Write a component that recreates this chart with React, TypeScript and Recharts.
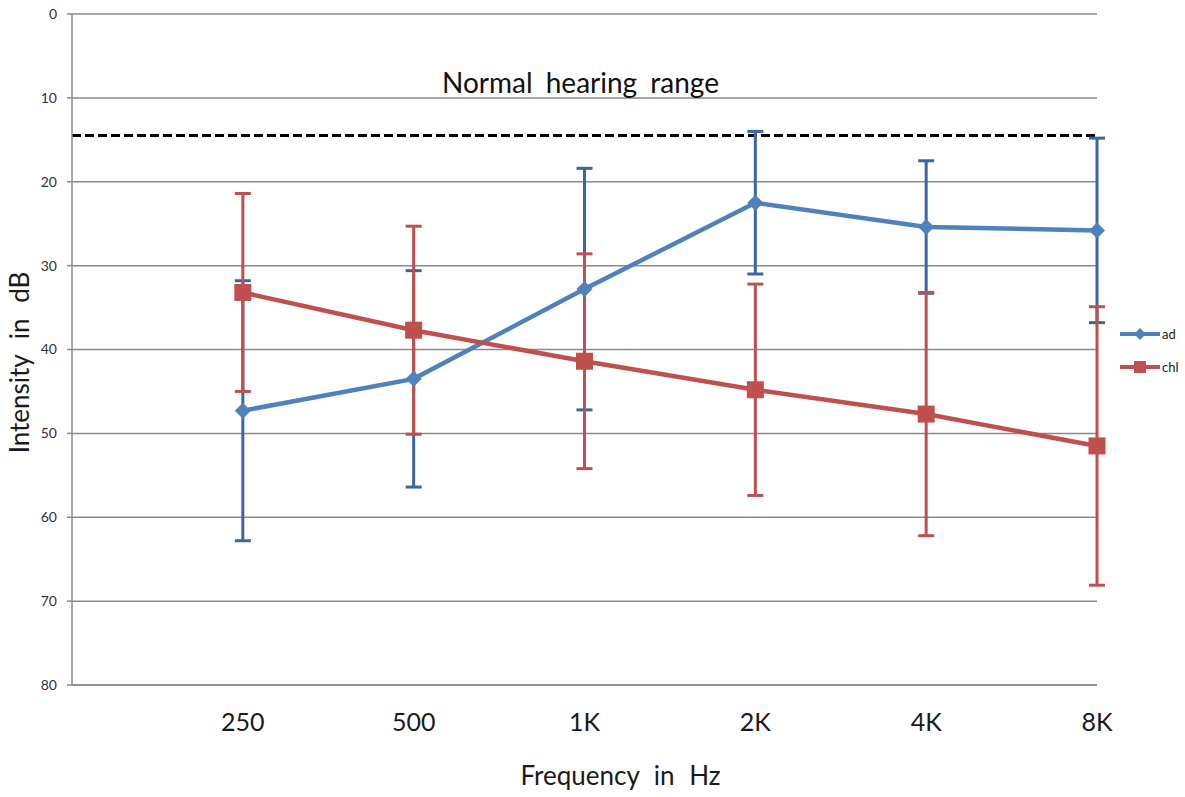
import React from 'react';
import {
  ComposedChart,
  Line,
  XAxis,
  YAxis,
  CartesianGrid,
  ErrorBar,
  ReferenceLine,
} from 'recharts';

const freqLabels = ['250', '500', '1K', '2K', '4K', '8K'];
const freqPositions = [1, 2, 3, 4, 5, 6];
const adValues = [47.3, 43.5, 32.8, 22.5, 25.4, 25.8];
const adErrors = [15.5, 12.9, 14.4, 8.5, 7.9, 11.0];
const chlValues = [33.2, 37.7, 41.4, 44.8, 47.7, 51.5];
const chlErrors = [11.8, 12.4, 12.8, 12.6, 14.5, 16.6];
const yTicks = [0, 10, 20, 30, 40, 50, 60, 70, 80];
const normalLimit = 14.5;

const data = freqPositions.map((x, i) => ({
  x,
  ad: adValues[i],
  adErr: adErrors[i],
  chl: chlValues[i],
  chlErr: chlErrors[i],
}));

const BLUE = '#4F81BD';
const BLUE_ERR = '#3A66A3';
const RED = '#C0504D';
const GRID = '#8a8a8a';
const FONT = 'Lato, "Open Sans", sans-serif';

const Diamond = (props: any) => {
  const { cx, cy, index } = props;
  if (cx == null || cy == null) return <g key={`ad-${index}`} />;
  const h = 8;
  return (
    <path
      key={`ad-${index}`}
      d={`M${cx},${cy - h} L${cx + h},${cy} L${cx},${cy + h} L${cx - h},${cy} Z`}
      fill={BLUE}
    />
  );
};

const Square = (props: any) => {
  const { cx, cy, index } = props;
  if (cx == null || cy == null) return <g key={`chl-${index}`} />;
  const h = 8.5;
  return (
    <rect key={`chl-${index}`} x={cx - h} y={cy - h} width={2 * h} height={2 * h} fill={RED} />
  );
};

export default function App() {
  return (
    <div style={{ position: 'fixed', left: 0, top: 0, width: 1185, height: 797, background: '#fff' }}>
      <ComposedChart
        width={1185}
        height={797}
        data={data}
        margin={{ top: 14, right: 88, bottom: 12, left: 0 }}
      >
        <CartesianGrid vertical={false} stroke={GRID} strokeWidth={1.5} />
        <XAxis
          dataKey="x"
          type="number"
          domain={[0, 6]}
          ticks={freqPositions}
          interval={0}
          tickFormatter={(v: number) => freqLabels[v - 1]}
          tickLine={false}
          tickSize={0}
          tickMargin={28}
          axisLine={{ stroke: GRID, strokeWidth: 1.5 }}
          tick={{ fontSize: 25, fill: '#1a1a1a', fontFamily: FONT }}
          height={100}
          label={{
            value: 'Frequency in Hz',
            position: 'insideBottom',
            offset: 0,
            dx: 36,
            style: { fontSize: 26, fill: '#1a1a1a', fontFamily: FONT, wordSpacing: 8 },
          }}
        />
        <YAxis
          type="number"
          domain={[0, 80]}
          ticks={yTicks}
          interval={0}
          reversed
          width={72}
          tickSize={5}
          tickMargin={10}
          tickLine={{ stroke: GRID, strokeWidth: 1.5 }}
          axisLine={{ stroke: GRID, strokeWidth: 1.5 }}
          tick={{ fontSize: 14, fill: '#333', fontFamily: FONT }}
          label={{
            value: 'Intensity in dB',
            angle: -90,
            position: 'center',
            dx: -16,
            dy: 13,
            style: { fontSize: 26, fill: '#1a1a1a', fontFamily: FONT, textAnchor: 'middle', wordSpacing: 9 },
          }}
        />
        <ReferenceLine
          y={normalLimit}
          stroke="#000"
          strokeWidth={3}
          strokeDasharray="9 4"
          label={{
            value: 'Normal hearing range',
            position: 'top',
            offset: 43,
            dx: -4,
            style: { fontSize: 28, fill: '#111', fontFamily: FONT, wordSpacing: 6 },
          }}
        />
        <Line
          type="linear"
          dataKey="ad"
          stroke={BLUE}
          strokeWidth={4.5}
          dot={Diamond}
          activeDot={false}
          isAnimationActive={false}
        >
          <ErrorBar dataKey="adErr" direction="y" width={8} stroke={BLUE_ERR} strokeWidth={3} />
        </Line>
        <Line
          type="linear"
          dataKey="chl"
          stroke={RED}
          strokeWidth={4.5}
          dot={Square}
          activeDot={false}
          isAnimationActive={false}
        >
          <ErrorBar dataKey="chlErr" direction="y" width={8} stroke={RED} strokeWidth={3} />
        </Line>
      </ComposedChart>
      <div style={{ position: 'absolute', left: 1118, top: 324, fontFamily: FONT, fontSize: 13, color: '#222' }}>
        <div style={{ display: 'flex', alignItems: 'center', height: 20 }}>
          <svg width={44} height={20}>
            <line x1={2} y1={10} x2={42} y2={10} stroke={BLUE} strokeWidth={4} />
            <path d="M22,4 L28,10 L22,16 L16,10 Z" fill={BLUE} />
          </svg>
          <span>ad</span>
        </div>
        <div style={{ display: 'flex', alignItems: 'center', height: 20, marginTop: 13 }}>
          <svg width={44} height={20}>
            <line x1={2} y1={10} x2={42} y2={10} stroke={RED} strokeWidth={4} />
            <rect x={16} y={4} width={12} height={12} fill={RED} />
          </svg>
          <span>chl</span>
        </div>
      </div>
    </div>
  );
}
